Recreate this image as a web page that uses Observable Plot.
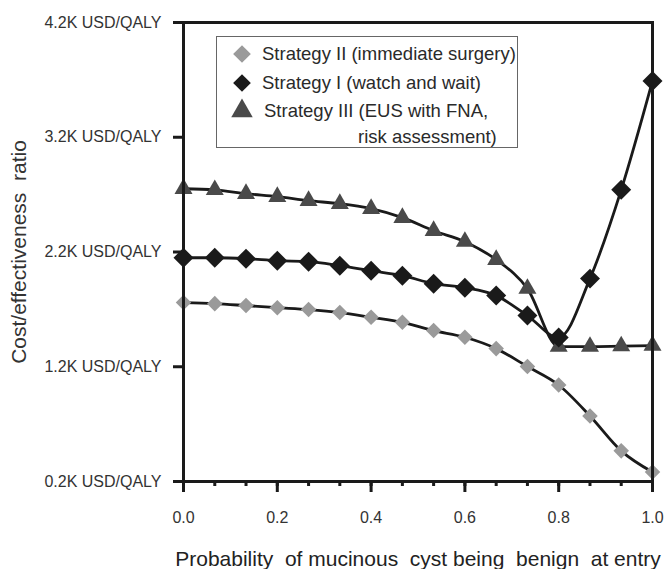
<!DOCTYPE html>
<html>
<head>
<meta charset="utf-8">
<script src="https://cdn.jsdelivr.net/npm/d3@7"></script>
<script src="https://cdn.jsdelivr.net/npm/@observablehq/plot@0.6"></script>
<style>
  html, body { margin: 0; padding: 0; background: #fff; }
  body { font-family: "Liberation Sans", Arial, sans-serif; }
  #wrap { position: relative; width: 667px; height: 569px; }
  #legend { position: absolute; left: 216px; top: 36px; width: 302px; height: 112px;
            border: 1px solid #666; box-sizing: border-box; background: #fff;
            font-family: "Liberation Sans", Arial, sans-serif; font-size: 18.5px; color: #2a2a2a; }
  #legend .row { position: absolute; white-space: nowrap; line-height: 1; transform: translateY(-50%); }
  #legend svg.sym { position: absolute; overflow: visible; }
</style>
</head>
<body>
<div id="wrap"></div>
<script>
// Probability of mucinous cyst being benign at entry (x positions of markers)
const prob = [0, 0.0667, 0.1333, 0.2, 0.2667, 0.3333, 0.4, 0.4667, 0.5333, 0.6, 0.6667, 0.7333, 0.8, 0.8667, 0.9333, 1.0];
// Cost/effectiveness ratio, K USD/QALY
const strategyII  = [1.759, 1.750, 1.733, 1.715, 1.698, 1.672, 1.631, 1.587, 1.515, 1.457, 1.358, 1.202, 1.041, 0.771, 0.467, 0.282];
const strategyI   = [2.150, 2.150, 2.142, 2.124, 2.116, 2.081, 2.037, 1.994, 1.924, 1.889, 1.820, 1.646, 1.454, 1.968, 2.742, 3.691];
const strategyIII = [2.751, 2.742, 2.708, 2.682, 2.647, 2.621, 2.577, 2.499, 2.385, 2.290, 2.133, 1.881, 1.376, 1.376, 1.380, 1.384];

const seriesNames = ["Strategy II (immediate surgery)", "Strategy I (watch and wait)", "Strategy III (EUS with FNA,", "risk assessment)"];
const yTicks = [0.2, 1.2, 2.2, 3.2, 4.2];
const xMajorTicks = [0.0, 0.2, 0.4, 0.6, 0.8, 1.0];
const xLabel = "Probability  of mucinous  cyst being  benign  at entry";
const yLabel = "Cost/effectiveness  ratio";

const rows = (vals, s) => prob.map((p, i) => ({p, v: vals[i], s}));
const dII = rows(strategyII, "II");
const dI = rows(strategyI, "I");
const dIII = rows(strategyIII, "III");
const all = [...dIII, ...dII, ...dI];

const lineColor = "#1a1a1a";
const grayColor = "#9a9a9a";
const blackColor = "#1a1a1a";
const triColor = "#4a4a4a";

const chart = Plot.plot({
  width: 667,
  height: 569,
  marginLeft: 183,
  marginRight: 15,
  marginTop: 22,
  marginBottom: 88,
  style: { fontFamily: "Liberation Sans, Arial, sans-serif", color: "#333", background: "#fff" },
  x: { domain: [0, 1] },
  y: { domain: [0.2, 4.2] },
  marks: [
    Plot.line(all, { x: "p", y: "v", z: "s", stroke: lineColor, strokeWidth: 2.8, curve: "monotone-x" }),
    Plot.dot(dIII, { x: "p", y: "v", symbol: "triangle2", r: 8.6, fill: triColor }),
    Plot.dot(dII, { x: "p", y: "v", symbol: "diamond2", r: 7.0, fill: grayColor }),
    Plot.dot(dI, { x: "p", y: "v", symbol: "diamond2", r: 9.0, fill: blackColor }),
    Plot.frame({ stroke: "#1a1a1a", strokeWidth: 3 }),
    Plot.axisY(yTicks, { tickSize: 10, tickPadding: 12, strokeWidth: 3, stroke: "#1a1a1a",
      tickFormat: d => d.toFixed(1) + "K USD/QALY", fontSize: 16, fill: "#333", label: null }),
    Plot.axisY([], { tickSize: 0, label: yLabel, labelArrow: "none", labelAnchor: "center", labelOffset: 172, fontSize: 21, fill: "#333" }),
    Plot.axisX(prob, { tickSize: 5, strokeWidth: 3, stroke: "#1a1a1a", text: null, label: null }),
    Plot.axisX(xMajorTicks, { tickSize: 11, tickPadding: 19, strokeWidth: 3, stroke: "#1a1a1a",
      tickFormat: d => d.toFixed(1), fontSize: 16, fill: "#333", label: null }),
    Plot.axisX([], { tickSize: 0, label: xLabel, labelArrow: "none", labelAnchor: "center", labelOffset: 84, fontSize: 21, fill: "#222" })
  ]
});

const wrap = document.getElementById("wrap");
wrap.appendChild(chart);

// Legend (HTML overlay inside plot frame)
const legend = document.createElement("div");
legend.id = "legend";
wrap.appendChild(legend);
const legendItems = [
  { sym: d3.symbolDiamond2, size: 200, fill: grayColor, text: seriesNames[0], tx: 45, y: 17 },
  { sym: d3.symbolDiamond2, size: 200, fill: blackColor, text: seriesNames[1], tx: 45, y: 45.5 },
  { sym: d3.symbolTriangle2, size: 330, fill: triColor, text: seriesNames[2], tx: 47, y: 74 },
  { sym: null, text: seriesNames[3], tx: 141, y: 100 }
];
for (const it of legendItems) {
  if (it.sym) {
    const s = d3.create("svg").attr("class", "sym").attr("width", 1).attr("height", 1)
      .style("left", "25px").style("top", it.y + "px");
    s.append("path").attr("d", d3.symbol(it.sym, it.size)()).attr("fill", it.fill);
    legend.appendChild(s.node());
  }
  const t = document.createElement("div");
  t.className = "row";
  t.style.left = it.tx + "px";
  t.style.top = it.y + "px";
  t.textContent = it.text;
  legend.appendChild(t);
}
</script>
</body>
</html>
